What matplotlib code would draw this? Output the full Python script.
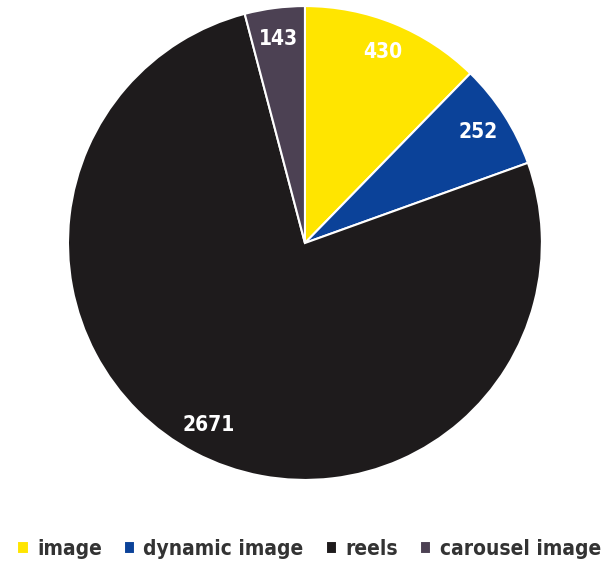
import matplotlib.pyplot as plt

labels = ["image", "dynamic image", "reels", "carousel image"]
values = [430, 252, 2671, 143]
colors = ["#FFE500", "#0B4299", "#1E1B1C", "#4C4153"]

plt.rcParams['font.family'] = ['DejaVu Sans']
plt.rcParams['font.stretch'] = 'condensed'

fig = plt.figure(figsize=(6.06, 5.65), dpi=100)
ax = fig.add_axes([0.1122, 0.1504, 0.782, 0.839])
wedges, texts = ax.pie(values, colors=colors, startangle=90, counterclock=False,
                       labels=[str(v) for v in values], labeldistance=0.87,
                       wedgeprops=dict(edgecolor="white", linewidth=1.5),
                       textprops=dict(color="white", fontsize=15, fontweight="bold",
                                      ha="center", va="center"))
ax.set_xlim(-1, 1)
ax.set_ylim(-1, 1)
ax.set_aspect("equal")

fig.legend(wedges, labels, loc="center", bbox_to_anchor=(0.51, 1 - 549 / 565),
           ncol=4, frameon=False, handlelength=0.55, handleheight=0.55,
           handletextpad=0.4, columnspacing=1.05,
           prop=dict(size=15, weight="bold", stretch="condensed"), labelcolor="#333333")

fig.savefig("out.png", dpi=100)
